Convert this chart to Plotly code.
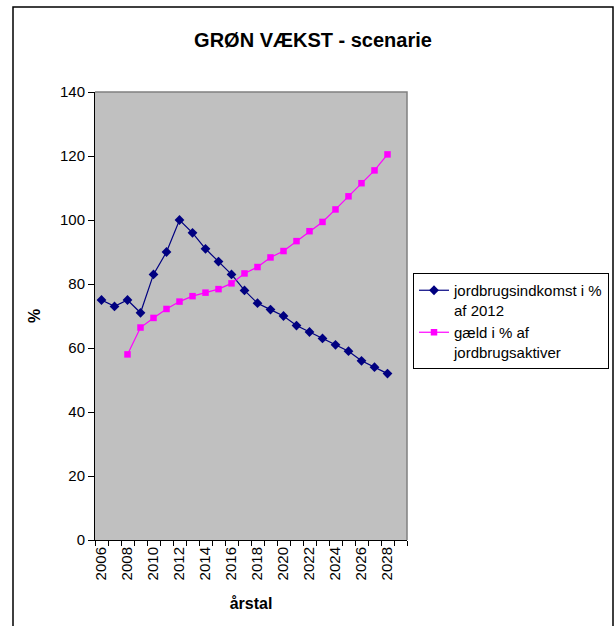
import plotly.graph_objects as go

years = list(range(2006, 2029))
indkomst = [75, 73, 75, 71, 83, 90, 100, 96, 91, 87, 83, 78, 74, 72, 70, 67, 65, 63, 61, 59, 56, 54, 52]
gaeld_years = list(range(2008, 2029))
gaeld = [58, 66.4, 69.4, 72.2, 74.5, 76.2, 77.3, 78.4, 80.2, 83.3, 85.3, 88.3, 90.3, 93.4, 96.5, 99.4, 103.3, 107.4, 111.5, 115.5, 120.5]
tick_labels = [str(y) for y in range(2006, 2029, 2)]
y_ticks = [0, 20, 40, 60, 80, 100, 120, 140]

FONT = "Arial, Liberation Sans, sans-serif"

W, H = 616, 626
L, R, T, B = 95, 616 - 407, 92, 626 - 540
pw, ph = W - L - R, H - T - B

def px_x(p):
    return (p - L) / pw

def px_y(p):
    return (H - B - p) / ph

fig = go.Figure()
fig.add_trace(go.Scatter(
    x=years, y=indkomst, mode="lines+markers",
    name="jordbrugsindkomst i %<br>af 2012",
    line=dict(color="#000080", width=1.2),
    marker=dict(symbol="diamond", size=7.5, color="#000080"),
))
fig.add_trace(go.Scatter(
    x=gaeld_years, y=gaeld, mode="lines+markers",
    name="gæld i % af<br>jordbrugsaktiver",
    line=dict(color="#FF00FF", width=1.2),
    marker=dict(symbol="square", size=6.5, color="#FF00FF"),
))

fig.update_layout(
    width=W, height=H,
    margin=dict(l=L, r=R, t=T, b=B, pad=0, autoexpand=False),
    paper_bgcolor="white",
    plot_bgcolor="#C0C0C0",
    font=dict(family=FONT, size=15, color="black"),
    title=dict(text="<b>GRØN VÆKST - scenarie</b>", x=px_x(313), xref="paper",
               xanchor="center", y=1 - 40 / H, yanchor="middle",
               font=dict(size=20, family=FONT, color="black")),
    showlegend=True,
    legend=dict(x=px_x(609), y=px_y(273), xanchor="right", yanchor="top",
                bordercolor="black", borderwidth=1, bgcolor="white",
                font=dict(size=15, family=FONT, color="black"),
                valign="top", tracegroupgap=0, itemwidth=30),
    xaxis=dict(
        range=[2005.5, 2029.5], showgrid=False, zeroline=False,
        showline=True, linecolor="black", linewidth=1,
        tickmode="array", tickvals=list(range(2006, 2029, 2)), ticktext=tick_labels,
        ticks="outside", ticklen=0, tickangle=-90,
        tickfont=dict(size=15, family=FONT),
        minor=dict(ticks="outside", tickvals=[y + 0.5 for y in range(2005, 2030)],
                   ticklen=5, tickcolor="black", tickwidth=1, showgrid=False),
        title=dict(text="<b>årstal</b>", font=dict(size=16, family=FONT), standoff=18),
    ),
    yaxis=dict(
        range=[0, 140], showgrid=False, zeroline=False,
        showline=True, linecolor="black", linewidth=1,
        tickmode="array", tickvals=y_ticks,
        ticks="outside", ticklen=6, tickcolor="black",
        tickfont=dict(size=15, family=FONT),
        title=dict(text="<b>%</b>", font=dict(size=16, family=FONT), standoff=15),
    ),
)

# gray plot-area border on top and right
fig.add_shape(type="path", xref="paper", yref="paper",
              path="M 0,1 L 1,1 L 1,0", line=dict(color="#808080", width=1.5))
# outer chart border
fig.add_shape(type="rect", xref="paper", yref="paper",
              x0=px_x(13), x1=px_x(613), y0=px_y(640), y1=px_y(7),
              line=dict(color="black", width=1.5), fillcolor="rgba(0,0,0,0)")

fig.write_html("out.html", config={"displayModeBar": False},
               post_script="document.body.style.margin='0';document.body.style.overflow='hidden';")
